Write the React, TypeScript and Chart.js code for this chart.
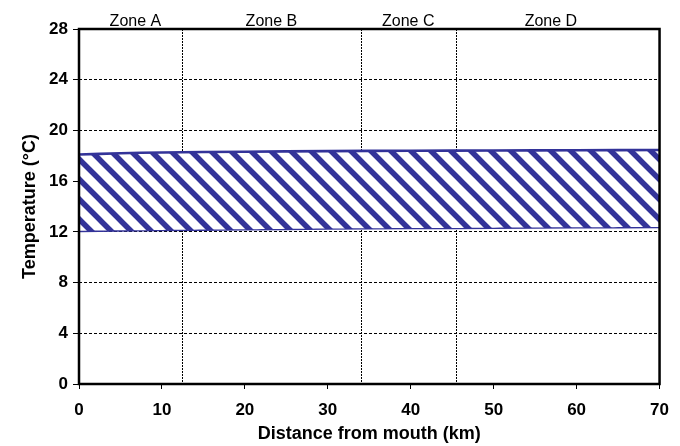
import { useEffect, useRef } from 'react';
import { Chart, registerables } from 'chart.js';

Chart.register(...registerables);

// Distance along the river (km) and the observed temperature envelope (°C)
const DISTANCE_KM = [0, 5, 10, 20, 30, 40, 50, 60, 70];
const UPPER_TEMP = [18.1, 18.2, 18.26, 18.32, 18.37, 18.4, 18.42, 18.44, 18.46];
const LOWER_TEMP = [12.08, 12.12, 12.15, 12.2, 12.26, 12.3, 12.33, 12.36, 12.38];

// Zone boundaries (km), zone names and where each name sits along the axis (km)
const ZONE_BOUNDARIES = [12.4, 34.0, 45.4];
const ZONE_NAMES = ['Zone A', 'Zone B', 'Zone C', 'Zone D'];
const ZONE_LABEL_KM = [6.8, 23.2, 39.7, 56.9];

// Axis ranges
const X_MIN = 0;
const X_MAX = 70;
const X_STEP = 10;
const Y_MIN = 0;
const Y_MAX = 28;
const Y_STEP = 4;

const BAND_COLOR = '#333399';
const FONT = '"Liberation Sans", Arial, Helvetica, sans-serif';

// Diagonal "\" hatch used to fill the temperature envelope
function makeHatch(): CanvasPattern | string {
  const s = 20;
  const tile = document.createElement('canvas');
  tile.width = s;
  tile.height = s;
  const g = tile.getContext('2d');
  if (!g) return BAND_COLOR;
  g.fillStyle = '#ffffff';
  g.fillRect(0, 0, s, s);
  g.strokeStyle = BAND_COLOR;
  g.lineWidth = 5.5;
  g.beginPath();
  for (const x0 of [-s, 0, s]) {
    g.moveTo(x0 - 2, -2);
    g.lineTo(x0 + s + 2, s + 2);
  }
  g.stroke();
  const p = g.createPattern(tile, 'repeat');
  return p || BAND_COLOR;
}

const zonePlugin = {
  id: 'zones',
  beforeDatasetsDraw(chart: any) {
    const { ctx, chartArea, scales } = chart;
    ctx.save();
    ctx.strokeStyle = '#000';
    ctx.lineWidth = 1;
    ctx.setLineDash([2, 1]);
    for (const b of ZONE_BOUNDARIES) {
      const x = Math.round(scales.x.getPixelForValue(b)) + 0.5;
      ctx.beginPath();
      ctx.moveTo(x, chartArea.top);
      ctx.lineTo(x, chartArea.bottom);
      ctx.stroke();
    }
    ctx.restore();
  },
  afterDatasetsDraw(chart: any) {
    const { ctx, chartArea } = chart;
    ctx.save();
    ctx.strokeStyle = '#000';
    ctx.lineWidth = 2.5;
    ctx.setLineDash([]);
    ctx.strokeRect(chartArea.left, chartArea.top, chartArea.right - chartArea.left, chartArea.bottom - chartArea.top);
    ctx.restore();
  },
  afterDraw(chart: any) {
    const { ctx, chartArea, scales } = chart;
    ctx.save();
    ctx.fillStyle = '#000';
    ctx.font = `16px ${FONT}`;
    ctx.textAlign = 'center';
    ctx.textBaseline = 'alphabetic';
    ZONE_NAMES.forEach((name, i) => {
      ctx.fillText(name, scales.x.getPixelForValue(ZONE_LABEL_KM[i]), chartArea.top - 3);
    });
    ctx.restore();
  },
};

export default function App() {
  const ref = useRef<HTMLCanvasElement>(null);

  useEffect(() => {
    const canvas = ref.current;
    if (!canvas) return;
    const hatch = makeHatch();
    const chart = new Chart(canvas, {
      type: 'line',
      data: {
        datasets: [
          {
            label: 'Upper',
            data: DISTANCE_KM.map((d, i) => ({ x: d, y: UPPER_TEMP[i] })),
            borderColor: BAND_COLOR,
            borderWidth: 2.6,
            pointRadius: 0,
            tension: 0.4,
            fill: '+1',
            backgroundColor: hatch as any,
          },
          {
            label: 'Lower',
            data: DISTANCE_KM.map((d, i) => ({ x: d, y: LOWER_TEMP[i] })),
            borderColor: BAND_COLOR,
            borderWidth: 2.6,
            pointRadius: 0,
            tension: 0.4,
            fill: false,
          },
        ],
      },
      options: {
        responsive: false,
        animation: false,
        layout: { padding: { top: 29, right: 20, left: 0, bottom: 0 } },
        plugins: {
          legend: { display: false },
          tooltip: { enabled: false },
        },
        scales: {
          x: {
            type: 'linear',
            min: X_MIN,
            max: X_MAX,
            ticks: {
              stepSize: X_STEP,
              color: '#000',
              padding: 11,
              maxRotation: 0,
              font: { family: FONT, size: 17, weight: 'bold' },
            },
            grid: {
              drawOnChartArea: false,
              drawTicks: true,
              tickLength: 5,
              color: '#000',
              lineWidth: 1,
            },
            border: { display: false },
            title: {
              display: true,
              text: 'Distance from mouth (km)',
              color: '#000',
              font: { family: FONT, size: 18, weight: 'bold' },
              padding: { top: 2, bottom: 1 },
            },
            afterFit(scale: any) {
              scale.height = 62;
            },
          },
          y: {
            min: Y_MIN,
            max: Y_MAX,
            ticks: {
              stepSize: Y_STEP,
              color: '#000',
              padding: 5,
              font: { family: FONT, size: 17, weight: 'bold' },
            },
            grid: {
              color: '#000',
              lineWidth: 1,
              tickLength: 6,
            },
            border: { display: false, dash: [3, 2] },
            title: {
              display: true,
              text: 'Temperature (°C)',
              color: '#000',
              font: { family: FONT, size: 18, weight: 'bold' },
              padding: { top: 19, bottom: 0 },
            },
            afterFit(scale: any) {
              scale.width = 79;
            },
          },
        },
      },
      plugins: [zonePlugin],
    });
    return () => chart.destroy();
  }, []);

  return (
    <div style={{ position: 'fixed', left: 0, top: 0, width: 680, height: 446, background: '#fff' }}>
      <canvas ref={ref} width={680} height={446} />
    </div>
  );
}
